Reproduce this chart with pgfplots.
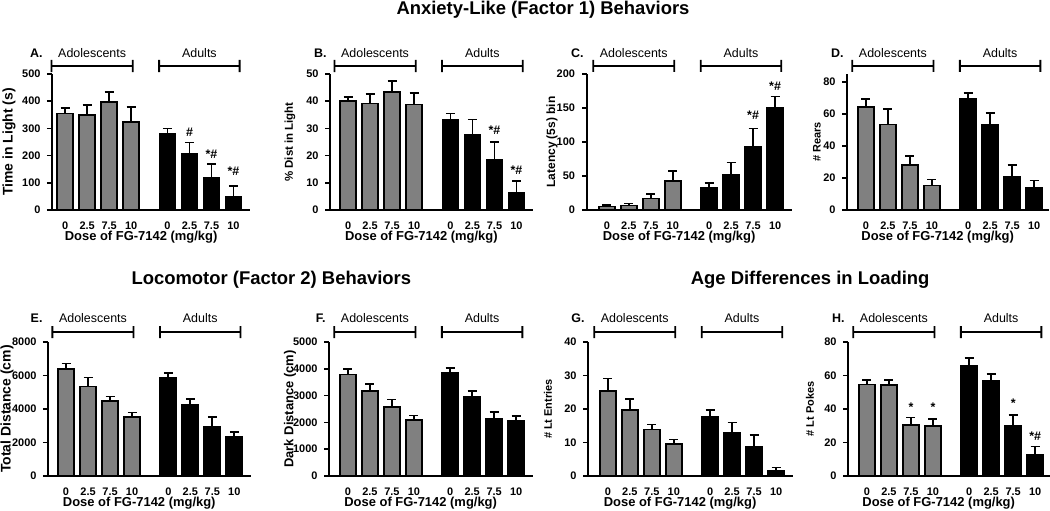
\documentclass[border=0pt]{standalone}
\usepackage{fontspec}
\setmainfont{Liberation Sans}
\usepackage{pgfplots}
\pgfplotsset{compat=1.18}
\definecolor{bargray}{RGB}{128,128,128}

\pgfplotsset{
 panel/.style={
  scale only axis, axis lines*=left, axis line style={line width=1.6bp,-},
  ymin=0,
  xtick={0,1,2,3,4.65,5.65,6.65,7.65},
  xticklabels={0,2.5,7.5,10,0,2.5,7.5,10},
  xtick style={draw=none},
  ytick style={line width=1.6bp,black},
  tick align=outside, major tick length=5bp,
  ticklabel style={font=\bfseries\fontsize{11}{12}\selectfont},
  xticklabel style={yshift=-3bp},
  yticklabel style={xshift=-3bp},
  /pgf/number format/assume math mode=true,
  /pgf/number format/1000 sep={},
  scaled y ticks=false,
  clip=false,
  xlabel={Dose of FG-7142 (mg/kg)},
  xlabel style={font=\bfseries\fontsize{13}{15}\selectfont, at={(axis description cs:0.45,0)}, anchor=center, yshift=-27bp},
 },
 ado/.style={ybar, bar width=16bp, bar shift=0pt, fill=bargray, draw=black, line width=1.7bp,
   error bars/y dir=plus, error bars/y explicit,
   error bars/error mark=-,
   error bars/error bar style={line width=1.7bp, black},
   error bars/error mark options={rotate=90, line width=1.7bp, mark size=4.5bp, black}},
 adu/.style={ado, fill=black},
}

% #1 ymax, #2 bracket offset, #3 label offset, #4 letter, #5 letter xshift
\newcommand{\groups}[5]{%
  \draw[line width=1.8bp] ([yshift=#2]axis cs:-0.62,#1) ++(canvas cs:x=0bp,y=6bp) -- ++(canvas cs:x=0bp,y=-12bp) ++(canvas cs:x=0bp,y=6bp) -- ([yshift=#2]axis cs:3.07,#1) ++(canvas cs:x=0bp,y=6bp) -- ++(canvas cs:x=0bp,y=-12bp);
  \draw[line width=1.8bp] ([yshift=#2]axis cs:4.27,#1) ++(canvas cs:x=0bp,y=6bp) -- ++(canvas cs:x=0bp,y=-12bp) ++(canvas cs:x=0bp,y=6bp) -- ([yshift=#2]axis cs:7.93,#1) ++(canvas cs:x=0bp,y=6bp) -- ++(canvas cs:x=0bp,y=-12bp);
  \node[font=\fontsize{12.5}{14}\selectfont] at ([yshift=#3]axis cs:1.225,#1) {Adolescents};
  \node[font=\fontsize{12.5}{14}\selectfont] at ([yshift=#3]axis cs:6.1,#1) {Adults};
  \node[font=\bfseries\fontsize{12.5}{14}\selectfont, anchor=east] at ([yshift=#3, xshift=#5]rel axis cs:0,1) {#4};
}
\newcommand{\ann}[3]{\node[font=\bfseries\fontsize{12.5}{13}\selectfont] at (axis cs:#1,#2) {#3};}

\begin{document}
\begin{tikzpicture}[x=1bp,y=1bp]
\useasboundingbox (0bp,0bp) rectangle (1050bp,511bp);

\node[anchor=base east, font=\bfseries\fontsize{18.5}{20}\selectfont] at (693bp,496bp) {Anxiety-Like (Factor 1) Behaviors};
\node[anchor=base west, font=\bfseries\fontsize{18.5}{20}\selectfont] at (128bp,226bp) {Locomotor (Factor 2) Behaviors};
\node[anchor=base east, font=\bfseries\fontsize{18.5}{20}\selectfont] at (933bp,226bp) {Age Differences in Loading};

% ---------- A ----------
\begin{axis}[panel, at={(52bp,301bp)}, anchor=south west, width=198bp, height=136bp,
  xmin=-0.6, xmax=8.4, ymax=500, ytick={0,100,...,500},
  ylabel={Time in Light (s)}, ylabel style={at={(axis description cs:0,0.5)}, anchor=center, yshift=43bp, font=\bfseries\fontsize{14}{16}\selectfont}]
\addplot[ado] table[x=x,y=y,y error=e,row sep=\\]{x y e\\ 0 355 20\\ 1 348 37\\ 2 397 38\\ 3 323 55\\};
\addplot[adu] table[x=x,y=y,y error=e,row sep=\\]{x y e\\ 4.65 279 21\\ 5.65 205 43\\ 6.65 120 50\\ 7.65 48 39\\};
\groups{500}{8bp}{21bp}{A.}{-6bp}
\ann{5.65}{284}{\#}
\ann{6.65}{206}{*\#}
\ann{7.65}{144}{*\#}
\end{axis}

% ---------- B ----------
\begin{axis}[panel, at={(330bp,301bp)}, anchor=south west, width=203bp, height=136bp,
  xmin=-0.82, xmax=8.4, ymax=50, ytick={0,10,...,50},
  ylabel={\% Dist in Light}, ylabel style={at={(axis description cs:0,0.5)}, anchor=center, yshift=40bp, font=\bfseries\fontsize{11.5}{13}\selectfont}]
\addplot[ado] table[x=x,y=y,y error=e,row sep=\\]{x y e\\ 0 40 1.6\\ 1 39.2 3.4\\ 2 43.5 3.8\\ 3 38.8 4.3\\};
\addplot[adu] table[x=x,y=y,y error=e,row sep=\\]{x y e\\ 4.65 33.3 2.2\\ 5.65 27.7 5.6\\ 6.65 18.3 6.8\\ 7.65 6.2 4.4\\};
\groups{50}{8bp}{21bp}{B.}{0bp}
\ann{6.65}{29.4}{*\#}
\ann{7.65}{14.6}{*\#}
\end{axis}

% ---------- C ----------
\begin{axis}[panel, at={(587bp,301bp)}, anchor=south west, width=204.6bp, height=136bp,
  xmin=-0.9, xmax=8.4, ymax=200, ytick={0,50,...,200},
  yticklabel style={xshift=-0.5bp},
  ylabel={Latency (5s) bin}, ylabel style={at={(axis description cs:0,0.5)}, anchor=center, yshift=35bp, font=\bfseries\fontsize{12}{14}\selectfont}]
\addplot[ado] table[x=x,y=y,y error=e,row sep=\\]{x y e\\ 0 5 2.5\\ 1 6.4 3\\ 2 17 6.5\\ 3 42.5 15\\};
\addplot[adu] table[x=x,y=y,y error=e,row sep=\\]{x y e\\ 4.65 32.6 7\\ 5.65 51 19\\ 6.65 93 27\\ 7.65 150 17\\};
\groups{200}{8bp}{21bp}{C.}{0bp}
\ann{6.65}{140}{*\#}
\ann{7.65}{182}{*\#}
\end{axis}

% ---------- D ----------
\begin{axis}[panel, at={(847bp,301bp)}, anchor=south west, width=201.5bp, height=136bp,
  xmin=-0.86, xmax=8.3, ymax=85, ytick={0,20,...,80},
  ylabel={\# Rears}, ylabel style={at={(axis description cs:0,0.5)}, anchor=center, yshift=30bp, font=\bfseries\fontsize{11}{13}\selectfont}]
\addplot[ado] table[x=x,y=y,y error=e,row sep=\\]{x y e\\ 0 64.3 5\\ 1 53.5 9.7\\ 2 28 5.7\\ 3 15.3 3.8\\};
\addplot[adu] table[x=x,y=y,y error=e,row sep=\\]{x y e\\ 4.65 69.3 3.8\\ 5.65 53.3 7.2\\ 6.65 21 7\\ 7.65 13.6 4.9\\};
\groups{85}{8bp}{21bp}{D.}{0bp}
\end{axis}

% ---------- E ----------
\begin{axis}[panel, at={(48bp,35bp)}, anchor=south west, width=202.8bp, height=134bp,
  xmin=-0.82, xmax=8.4, ymax=8000, ytick={0,2000,...,8000},
  ylabel={Total Distance (cm)}, ylabel style={at={(axis description cs:0,0.5)}, anchor=center, yshift=41bp, font=\bfseries\fontsize{14}{16}\selectfont}]
\addplot[ado] table[x=x,y=y,y error=e,row sep=\\]{x y e\\ 0 6370 340\\ 1 5340 535\\ 2 4470 275\\ 3 3530 260\\};
\addplot[adu] table[x=x,y=y,y error=e,row sep=\\]{x y e\\ 4.65 5850 300\\ 5.65 4270 340\\ 6.65 2940 575\\ 7.65 2340 300\\};
\groups{8000}{10bp}{24bp}{E.}{-2bp}
\end{axis}

% ---------- F ----------
\begin{axis}[panel, at={(329bp,35bp)}, anchor=south west, width=203.7bp, height=134bp,
  xmin=-0.86, xmax=8.4, ymax=5000, ytick={0,1000,...,5000},
  ylabel={Dark Distance (cm)}, ylabel style={at={(axis description cs:0,0.5)}, anchor=center, yshift=39bp, font=\bfseries\fontsize{13}{15}\selectfont}]
\addplot[ado] table[x=x,y=y,y error=e,row sep=\\]{x y e\\ 0 3790 190\\ 1 3160 285\\ 2 2575 275\\ 3 2100 160\\};
\addplot[adu] table[x=x,y=y,y error=e,row sep=\\]{x y e\\ 4.65 3855 185\\ 5.65 2950 225\\ 6.65 2140 260\\ 7.65 2050 200\\};
\groups{5000}{10bp}{24bp}{F.}{0bp}
\end{axis}

% ---------- G ----------
\begin{axis}[panel, at={(588bp,35bp)}, anchor=south west, width=204.6bp, height=134bp,
  xmin=-0.9, xmax=8.4, ymax=40, ytick={0,10,...,40},
  ylabel={\# Lt Entries}, ylabel style={at={(axis description cs:0,0.5)}, anchor=center, yshift=40bp, font=\bfseries\fontsize{11}{13}\selectfont}]
\addplot[ado] table[x=x,y=y,y error=e,row sep=\\]{x y e\\ 0 25.4 3.7\\ 1 19.6 3.4\\ 2 13.9 1.5\\ 3 9.5 1.4\\};
\addplot[adu] table[x=x,y=y,y error=e,row sep=\\]{x y e\\ 4.65 17.6 2\\ 5.65 12.8 3.2\\ 6.65 8.7 3.6\\ 7.65 1.4 1.1\\};
\groups{40}{10bp}{24bp}{G.}{0bp}
\end{axis}

% ---------- H ----------
\begin{axis}[panel, at={(848bp,35bp)}, anchor=south west, width=201.5bp, height=134bp,
  xmin=-0.86, xmax=8.3, ymax=80, ytick={0,20,...,80},
  ylabel={\# Lt Pokes}, ylabel style={at={(axis description cs:0,0.5)}, anchor=center, yshift=38bp, font=\bfseries\fontsize{11}{13}\selectfont}]
\addplot[ado] table[x=x,y=y,y error=e,row sep=\\]{x y e\\ 0 54.7 2.8\\ 1 54.3 3.2\\ 2 30.6 4.4\\ 3 29.9 4.3\\};
\addplot[adu] table[x=x,y=y,y error=e,row sep=\\]{x y e\\ 4.65 66 4.4\\ 5.65 57.1 4\\ 6.65 29.7 6.9\\ 7.65 12.5 5.2\\};
\groups{80}{10bp}{24bp}{H.}{0bp}
\ann{2}{40.8}{*}
\ann{3}{40.8}{*}
\ann{6.65}{43.2}{*}
\ann{7.65}{23.9}{*\#}
\end{axis}
\end{tikzpicture}
\end{document}
